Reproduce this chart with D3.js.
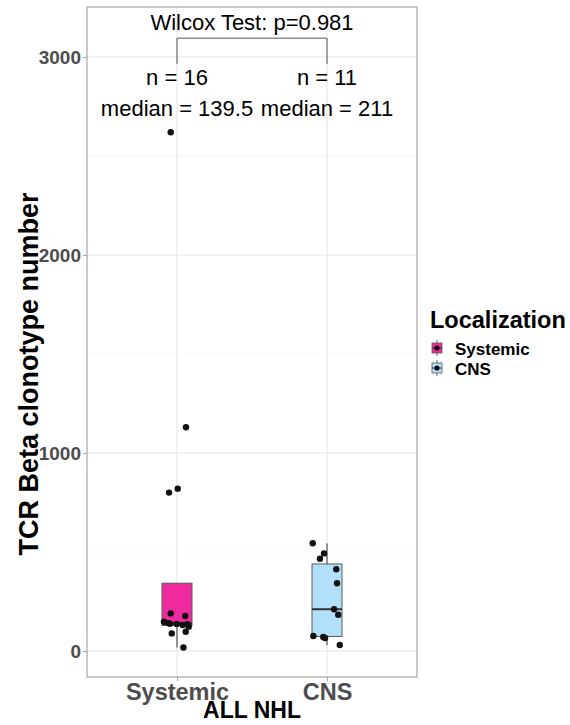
<!DOCTYPE html>
<html><head><meta charset="utf-8">
<script src="https://cdn.jsdelivr.net/npm/d3@7"></script>
<style>body{margin:0;background:#fff}svg{display:block}text{font-family:"Liberation Sans",Arial,sans-serif}</style>
</head><body><svg id="chart" width="570" height="725"></svg>
<script>
const categories = ["Systemic", "CNS"];
const systemicValues = [18, 89, 97, 123, 131, 135, 137, 138, 141, 148, 177, 190, 800, 820, 1130, 2620];
const systemicJitter = [0.043, -0.035, 0.058, 0.078, 0.037, 0.069, -0.002, -0.047, -0.058, -0.087, 0.055, -0.042, -0.053, 0.005, 0.06, -0.042];
const cnsValues = [30, 66, 71, 76, 183, 211, 342, 413, 466, 493, 544];
const cnsJitter = [0.085, -0.013, -0.025, -0.091, 0.075, 0.047, 0.067, 0.062, -0.047, -0.02, -0.095];
const fillColors = ["#EE2A9E", "#B2E0FA"];
const yTicks = [0, 1000, 2000, 3000];
const yMinorTicks = [500, 1500, 2500];
const nLabels = ["n = 16", "n = 11"];
const medianLabels = ["median = 139.5", "median = 211"];
const testLabel = "Wilcox Test: p=0.981";

const svg = d3.select("#chart");
const panel = {l: 87, r: 417, t: 7, b: 677};
const y = d3.scaleLinear().domain([-131.3, 3252.5]).range([panel.b, panel.t]);
const x = d3.scalePoint().domain(categories).range([panel.l, panel.r]).padding(0.6);
const step = x.step();

// gridlines
const grid = svg.append("g");
yMinorTicks.forEach(v => grid.append("line").attr("x1", panel.l).attr("x2", panel.r).attr("y1", y(v)).attr("y2", y(v)).attr("stroke", "#f1f1f1").attr("stroke-width", 0.6));
yTicks.forEach(v => grid.append("line").attr("x1", panel.l).attr("x2", panel.r).attr("y1", y(v)).attr("y2", y(v)).attr("stroke", "#e6e6e6").attr("stroke-width", 1.1));
categories.forEach(c => grid.append("line").attr("x1", x(c)).attr("x2", x(c)).attr("y1", panel.t).attr("y2", panel.b).attr("stroke", "#e6e6e6").attr("stroke-width", 1.1));

function quant(arr, p) { return d3.quantileSorted(arr.slice().sort((a,b)=>a-b), p); }
const groups = [systemicValues, cnsValues];
const jitters = [systemicJitter, cnsJitter];
const boxW = 0.2 * step;

groups.forEach((vals, i) => {
  const c = categories[i];
  const s = vals.slice().sort((a,b)=>a-b);
  const q1 = quant(s, 0.25), med = quant(s, 0.5), q3 = quant(s, 0.75);
  const iqr = q3 - q1;
  const inside = s.filter(v => v >= q1 - 1.5*iqr && v <= q3 + 1.5*iqr);
  const lo = d3.min(inside), hi = d3.max(inside);
  const g = svg.append("g");
  g.append("line").attr("x1", x(c)).attr("x2", x(c)).attr("y1", y(q3)).attr("y2", y(Math.max(hi, q3))).attr("stroke", "#333").attr("stroke-width", 1);
  g.append("line").attr("x1", x(c)).attr("x2", x(c)).attr("y1", y(q1)).attr("y2", y(lo)).attr("stroke", "#333").attr("stroke-width", 1);
  g.append("rect").attr("x", x(c) - boxW/2).attr("width", boxW).attr("y", y(q3)).attr("height", y(q1) - y(q3))
    .attr("fill", fillColors[i]).attr("stroke", "#5a5a5a").attr("stroke-width", 1);
  g.append("line").attr("x1", x(c) - boxW/2).attr("x2", x(c) + boxW/2).attr("y1", y(med)).attr("y2", y(med)).attr("stroke", "#333").attr("stroke-width", 2);
});

groups.forEach((vals, i) => {
  const c = categories[i];
  svg.append("g").selectAll("circle").data(vals).join("circle")
    .attr("cx", (d, k) => x(c) + jitters[i][k] * step)
    .attr("cy", d => y(d)).attr("r", 3.2).attr("fill", "#111");
});

// panel border
svg.append("rect").attr("x", panel.l).attr("y", panel.t).attr("width", panel.r - panel.l).attr("height", panel.b - panel.t)
  .attr("fill", "none").attr("stroke", "#a6a6a6").attr("stroke-width", 1.2);

// y axis
const yAxis = svg.append("g").attr("transform", `translate(${panel.l},0)`)
  .call(d3.axisLeft(y).tickValues(yTicks).tickSize(4).tickPadding(2).tickFormat(d3.format("d")));
yAxis.select(".domain").remove();
yAxis.selectAll(".tick line").attr("stroke", "#a6a6a6");
yAxis.selectAll(".tick text").attr("fill", "#4d4d4d").attr("font-size", 19).attr("font-weight", "bold").attr("font-family", "Liberation Sans, Arial, sans-serif");

// x axis
const xAxis = svg.append("g").attr("transform", `translate(0,${panel.b})`)
  .call(d3.axisBottom(x).tickSize(4).tickPadding(2));
xAxis.select(".domain").remove();
xAxis.selectAll(".tick line").attr("stroke", "#a6a6a6");
xAxis.selectAll(".tick text").attr("fill", "#4d4d4d").attr("font-size", 23.5).attr("font-weight", "bold").attr("font-family", "Liberation Sans, Arial, sans-serif");

// axis titles
svg.append("text").attr("x", (panel.l + panel.r)/2).attr("y", 718).attr("text-anchor", "middle")
  .attr("font-size", 23).attr("font-weight", "bold").text("ALL NHL");
svg.append("text").attr("transform", `translate(38,374) rotate(-90)`).attr("text-anchor", "middle")
  .attr("font-size", 27).attr("font-weight", "bold").text("TCR Beta clonotype number");

// annotations
const ann = svg.append("g");
const bracketTop = 3095, bracketBottom = 2965;
ann.append("path").attr("d", `M${x(categories[0])},${y(bracketBottom)}V${y(bracketTop)}H${x(categories[1])}V${y(bracketBottom)}`)
  .attr("fill", "none").attr("stroke", "#555").attr("stroke-width", 1);
ann.append("text").attr("x", (x(categories[0]) + x(categories[1]))/2).attr("y", y(3136)).attr("text-anchor", "middle")
  .attr("font-size", 22).text(testLabel);
categories.forEach((c, i) => {
  ann.append("text").attr("x", x(c)).attr("y", y(2860)).attr("text-anchor", "middle").attr("font-size", 22).text(nLabels[i]);
  ann.append("text").attr("x", x(c)).attr("y", y(2700)).attr("text-anchor", "middle").attr("font-size", 22).text(medianLabels[i]);
});

// legend
const lg = svg.append("g");
lg.append("text").attr("x", 430).attr("y", 328).attr("font-size", 23.5).attr("font-weight", "bold").text("Localization");
categories.forEach((c, i) => {
  const cy = 348 + i * 20;
  const k = lg.append("g");
  k.append("line").attr("x1", 437).attr("x2", 437).attr("y1", cy - 8).attr("y2", cy + 8).attr("stroke", "#333").attr("stroke-width", 0.8);
  k.append("rect").attr("x", 432).attr("y", cy - 5).attr("width", 10).attr("height", 10).attr("fill", fillColors[i]).attr("stroke", "#5a5a5a").attr("stroke-width", 0.8);
  k.append("line").attr("x1", 432).attr("x2", 442).attr("y1", cy).attr("y2", cy).attr("stroke", "#333").attr("stroke-width", 1);
  k.append("circle").attr("cx", 437).attr("cy", cy).attr("r", 2.6).attr("fill", "#111");
  lg.append("text").attr("x", 455).attr("y", cy + 6.5).attr("font-size", 17).attr("font-weight", "bold").text(c);
});
</script></body></html>
